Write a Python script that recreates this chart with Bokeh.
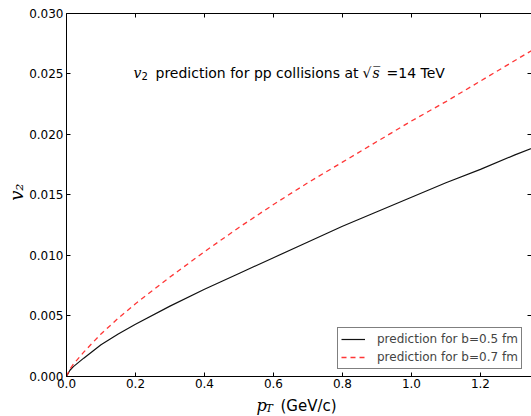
import numpy as np
from bokeh.plotting import figure
from bokeh.models import (Range1d, FixedTicker, LinearAxis, Label, Legend, LegendItem,
                          CustomJSTickFormatter, PrintfTickFormatter)
from bokeh.embed import file_html
from bokeh.resources import INLINE

# ---- data ----
pt = [0.0, 0.01, 0.02, 0.05, 0.1, 0.15, 0.2, 0.3, 0.4, 0.5, 0.6, 0.7, 0.8, 0.9, 1.0,
      1.1, 1.2, 1.3, 1.4]
v2_b05 = [0.0, 0.0005, 0.0008, 0.0015, 0.0026, 0.0035, 0.0043, 0.0058, 0.0072, 0.0085,
          0.0098, 0.0111, 0.0124, 0.0136, 0.0148, 0.0160, 0.0171, 0.0183, 0.0194]
v2_b07 = [0.0, 0.0006, 0.0010, 0.0020, 0.0035, 0.0048, 0.0060, 0.0082, 0.0103, 0.0123,
          0.0142, 0.0160, 0.0177, 0.0194, 0.0211, 0.0227, 0.0244, 0.0261, 0.0278]
x_ticks = [0.0, 0.2, 0.4, 0.6, 0.8, 1.0, 1.2]
y_ticks = [0.000, 0.005, 0.010, 0.015, 0.020, 0.025, 0.030]
legend_labels = ["prediction for b=0.5 fm", "prediction for b=0.7 fm"]

X_MAX = 1.348
Y_MAX = 0.030

FONT = "DejaVu Sans"
SERIF = "DejaVu Serif"

# frame covers the whole canvas; axes are fixed at data positions so labels stay visible
p = figure(width=531, height=416, output_backend="svg", toolbar_location=None,
           x_range=Range1d(-0.1913, X_MAX), y_range=Range1d(-0.003322, 0.031058),
           min_border_left=0, min_border_right=0, min_border_top=0, min_border_bottom=0,
           x_axis_location=None, y_axis_location=None)
p.outline_line_color = None
p.grid.visible = False
p.background_fill_color = "white"
p.border_fill_color = "white"

def style_axis(ax, ticks, fmt, labels=True):
    ax.ticker = FixedTicker(ticks=ticks)
    ax.major_tick_in = 4
    ax.major_tick_out = 0
    ax.minor_tick_in = 0
    ax.minor_tick_out = 0
    ax.axis_line_color = "black"
    ax.axis_line_width = 1
    ax.major_tick_line_color = "black"
    if labels:
        ax.formatter = PrintfTickFormatter(format=fmt)
        ax.major_label_text_font = FONT
        ax.major_label_text_font_size = "12px"
        ax.major_label_text_color = "black"
        ax.major_label_standoff = 3
    else:
        ax.formatter = CustomJSTickFormatter(code="return ''")
        ax.major_label_text_font_size = "0px"
        ax.major_label_standoff = 0
        ax.axis_label_standoff = 0

xb = LinearAxis(fixed_location=0, bounds=(0, X_MAX)); style_axis(xb, x_ticks, "%.1f")
yl = LinearAxis(fixed_location=0, bounds=(0, Y_MAX)); style_axis(yl, y_ticks, "%.3f")
xt = LinearAxis(fixed_location=Y_MAX, bounds=(0, X_MAX)); style_axis(xt, x_ticks, "", labels=False)
yr = LinearAxis(fixed_location=X_MAX, bounds=(0, Y_MAX)); style_axis(yr, y_ticks, "", labels=False)
yr.axis_line_color = None
p.add_layout(xb, "below")
p.add_layout(yl, "left")
p.add_layout(xt, "above")
p.add_layout(yr, "right")

r1 = p.line(pt, v2_b05, line_color="#111111", line_width=1.2)
r2 = p.line(pt, v2_b07, line_color="#ff2020", line_width=1.3, line_dash="5 4", line_alpha=0.9)

legend = Legend(items=[LegendItem(label=legend_labels[0], renderers=[r1]),
                       LegendItem(label=legend_labels[1], renderers=[r2])],
                location=(337, 47))
legend.margin = 0
legend.padding = 3
legend.spacing = 2
legend.label_height = 16
legend.glyph_height = 16
legend.glyph_width = 24
legend.label_standoff = 12
legend.label_text_font = FONT
legend.label_text_font_size = "12px"
legend.border_line_color = "black"
legend.border_line_width = 1
legend.background_fill_alpha = 1
p.add_layout(legend, "center")

# ---- title text inside plot ----
ty = 0.02507
def lab(text, xoff, y, font=FONT, size="14px", style="normal", yoff=0, angle=0):
    p.add_layout(Label(x=0, y=y, x_offset=xoff, y_offset=yoff, text=text,
                       text_font=font, text_font_size=size, text_font_style=style,
                       text_color="black", text_baseline="alphabetic", text_align="left",
                       angle=angle))

lab("v", 67, ty, font=SERIF, style="italic")
lab("2", 75, ty, size="10px", yoff=-3)
lab("prediction for pp collisions at", 89, ty)
lab("\u221a", 296, ty)
lab("s\u0305", 306, ty, font=SERIF, style="italic")
lab("=14 TeV", 320, ty)

# ---- axis labels ----
xl_y = -0.00244
lab("p", 190, xl_y, font=SERIF, style="italic", size="16px")
lab("T", 199, xl_y, font=SERIF, style="italic", size="11px", yoff=-3)
lab("(GeV/c)", 214, xl_y, size="15px")

p.add_layout(Label(x=0, y=0.0145, x_offset=-50, text="v\u2082", text_font=SERIF,
                   text_font_size="18px", text_font_style="italic", text_color="black",
                   text_baseline="alphabetic", text_align="left", angle=np.pi / 2))

open("out.html", "w").write(file_html(p, INLINE))
